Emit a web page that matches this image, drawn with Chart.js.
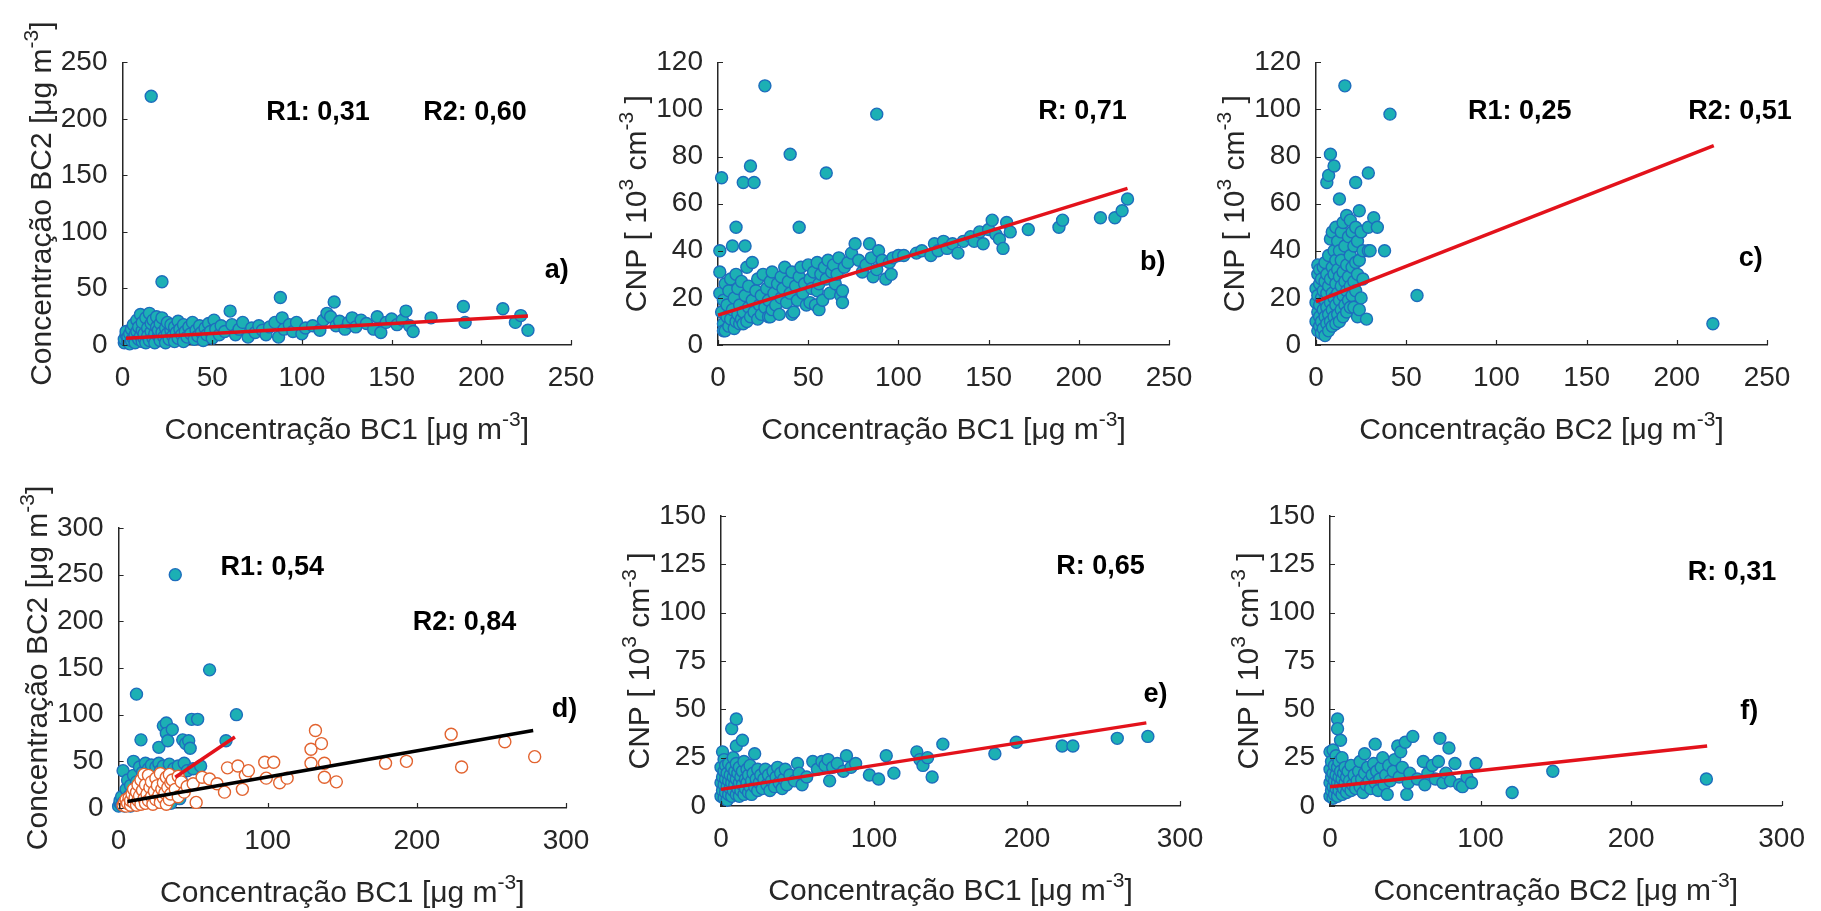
<!DOCTYPE html>
<html>
<head>
<meta charset="utf-8">
<script src="https://cdn.jsdelivr.net/npm/chart.js@4.4.1/dist/chart.umd.min.js"></script>
<style>
  html, body { margin: 0; padding: 0; background: #fff; }
  #wrap { position: relative; width: 1821px; height: 911px; overflow: hidden; }
  #wrap canvas { position: absolute; left: 0; top: 0; }
</style>
</head>
<body>
<div id="wrap">
  <canvas id="pa" width="1821" height="911"></canvas>
  <canvas id="pb" width="1821" height="911"></canvas>
  <canvas id="pc" width="1821" height="911"></canvas>
  <canvas id="pd" width="1821" height="911"></canvas>
  <canvas id="pe" width="1821" height="911"></canvas>
  <canvas id="pf" width="1821" height="911"></canvas>
</div>
<script>
// ---- tick values ----
const ticksX250 = [0, 50, 100, 150, 200, 250];
const ticksX300 = [0, 100, 200, 300];
const ticksBc2Top = [0, 50, 100, 150, 200, 250];
const ticksCnpTop = [0, 20, 40, 60, 80, 100, 120];
const ticksBc2Bottom = [0, 50, 100, 150, 200, 250, 300];
const ticksCnpBottom = [0, 25, 50, 75, 100, 125, 150];

// ---- a) BC1 vs BC2 ----
const bc1VsBc2 = [
  [1,2],[1,5],[2,9],[2,12],[3,3],[3,7],[4,1],[4,10],[5,4],[5,14],[6,6],[6,18],[7,2],[7,9],[8,12],[8,22],
  [9,5],[9,16],[10,27],[10,8],[11,3],[11,13],[11,20],[12,6],[12,10],[13,24],[13,2],[14,15],[14,8],[15,28],
  [15,4],[16,12],[16,19],[17,6],[17,22],[18,10],[18,2],[19,16],[19,25],[20,8],[20,13],[21,4],[21,19],[22,11],
  [22,24],[23,7],[24,15],[24,2],[25,20],[25,10],[26,5],[27,13],[27,18],[28,8],[29,3],[29,16],[30,11],[31,21],
  [31,6],[32,14],[33,9],[34,18],[34,3],[35,12],[36,7],[37,16],[38,10],[39,20],[40,5],[41,13],[42,8],[43,17],
  [44,11],[45,4],[46,15],[47,9],[48,19],[49,12],[50,6],[51,22],[52,14],[54,9],[55,17],[57,12],
  [60,30],[61,18],[63,9],[65,14],[67,20],[70,7],[72,15],[74,11],[76,17],[78,13],[80,9],[82,16],[85,20],[87,7],
  [88,42],[89,24],[90,14],[93,18],[95,12],[97,20],[100,10],[102,15],[106,17],[110,13],[112,22],[114,28],
  [116,25],[118,38],[119,17],[121,21],[124,14],[126,20],[128,24],[130,16],[133,22],[136,19],[140,14],[142,25],
  [144,11],[147,20],[150,23],[153,18],[156,22],[158,30],[160,17],[162,12],[172,24],[190,34],[191,20],[212,32],
  [219,20],[222,26],[226,13],[16,220],[22,56]
];
const fitBc1Bc2 = [[2, 6], [226, 25.6]];

// ---- b) BC1 vs CNP ----
const bc1VsCnp = [
  [1,40],[1,31],[1,22],[2,71],[2,14],[3,9],[3,19],[3,6],[4,6],[4,26],[5,12],[5,17],[6,8],[6,23],[7,11],[7,28],
  [8,42],[8,15],[9,7],[9,20],[10,50],[10,10],[10,30],[11,13],[11,24],[12,9],[12,17],[13,27],[13,11],[14,69],
  [14,14],[14,9],[15,42],[15,21],[16,10],[16,33],[17,16],[17,25],[18,76],[18,12],[19,19],[19,35],[20,69],
  [20,14],[21,23],[22,11],[22,28],[23,17],[24,21],[24,13],[25,30],[26,110],[26,16],[27,24],[28,12],[28,19],
  [29,27],[29,12],[30,15],[30,31],[31,22],[32,17],[33,26],[34,13],[35,20],[35,29],[36,24],[37,33],[38,18],
  [39,27],[40,81],[40,22],[41,31],[41,13],[42,14],[43,25],[44,19],[45,50],[45,29],[46,33],[47,22],[48,26],
  [49,17],[50,34],[51,28],[51,18],[52,24],[53,31],[54,17],[55,35],[55,23],[56,26],[56,15],[57,30],[58,19],
  [59,33],[60,73],[60,28],[61,36],[62,22],[63,31],[64,34],[65,26],[66,30],[67,37],[68,21],[69,18],[69,23],
  [70,33],[72,35],[74,39],[76,43],[78,36],[80,31],[82,34],[84,43],[85,37],[86,29],[88,98],[88,32],[89,40],
  [91,36],[93,28],[95,35],[96,30],[97,37],[100,38],[103,38],[110,39],[113,40],[118,38],[120,43],[122,40],
  [125,44],[127,41],[130,43],[133,39],[136,44],[140,46],[142,44],[145,48],[147,43],[150,49],[152,53],[154,47],
  [156,45],[158,41],[160,52],[162,48],[172,49],[189,50],[191,53],[212,54],[220,54],[224,57],[227,62]
];
const fitBc1Cnp = [[0, 12.7], [227, 66.5]];

// ---- c) BC2 vs CNP ----
const bc2VsCnp = [
  [0,10],[0,18],[0,24],[1,6],[1,14],[1,21],[1,30],[1,34],[2,8],[2,12],[2,17],[2,26],[2,32],[3,5],[3,10],[3,20],
  [3,28],[4,7],[4,15],[4,23],[4,33],[5,4],[5,12],[5,19],[5,27],[5,35],[6,9],[6,16],[6,22],[6,30],[6,69],[7,6],
  [7,13],[7,25],[7,38],[7,72],[8,10],[8,18],[8,28],[8,45],[8,81],[9,8],[9,15],[9,22],[9,33],[9,48],[10,12],
  [10,20],[10,30],[10,40],[10,76],[11,9],[11,17],[11,26],[11,36],[11,50],[12,13],[12,22],[12,32],[12,44],
  [13,10],[13,19],[13,29],[13,40],[13,62],[14,15],[14,25],[14,36],[14,48],[15,12],[15,21],[15,31],[15,52],
  [16,110],[16,17],[16,27],[16,42],[17,14],[17,23],[17,34],[17,55],[18,19],[18,29],[18,46],[19,16],[19,25],
  [19,38],[19,53],[20,21],[20,33],[20,48],[21,16],[21,27],[21,42],[22,69],[22,23],[22,35],[22,50],[23,12],
  [23,30],[23,44],[24,15],[24,57],[24,36],[25,20],[25,48],[26,28],[26,40],[28,11],[29,73],[29,40],[29,50],
  [30,40],[32,54],[34,50],[38,40],[41,98],[56,21],[220,9]
];
const fitBc2Cnp = [[0, 18.4], [220.5, 84.6]];

// ---- d) BC1 vs BC2, two periods ----
const bc1VsBc2Period1 = [
  [0,2],[1,5],[1,8],[2,3],[2,12],[3,6],[3,40],[4,2],[5,9],[5,20],[6,4],[6,30],[7,13],[7,7],[8,2],[8,24],[9,16],
  [10,50],[10,35],[11,10],[12,122],[12,28],[13,19],[14,44],[15,6],[15,73],[16,38],[17,25],[18,48],[19,33],
  [20,12],[20,42],[21,30],[22,46],[23,20],[24,37],[25,8],[25,44],[26,29],[27,65],[27,48],[28,40],[29,18],
  [30,88],[30,45],[31,33],[32,91],[32,80],[33,72],[34,47],[35,26],[35,5],[36,84],[37,42],[38,250],[38,20],
  [39,35],[40,45],[41,10],[42,30],[43,73],[44,48],[45,69],[46,40],[47,72],[48,64],[49,95],[50,42],[53,95],
  [55,45],[61,148],[72,72],[79,100]
];
const bc1VsBc2Period2 = [
  [3,3],[4,6],[5,2],[5,9],[6,5],[7,11],[8,3],[8,8],[9,15],[10,6],[10,20],[11,11],[12,3],[12,17],[13,8],[13,25],
  [14,13],[15,4],[15,30],[16,19],[17,10],[17,36],[18,25],[18,5],[19,15],[20,35],[20,8],[21,22],[22,12],
  [22,28],[23,4],[24,18],[25,32],[25,9],[26,24],[27,14],[28,37],[28,6],[29,20],[30,27],[30,11],[31,16],
  [32,33],[32,4],[33,22],[34,9],[34,36],[35,15],[35,27],[36,30],[38,20],[40,34],[40,12],[42,28],[44,17],
  [46,23],[50,26],[52,6],[56,33],[61,31],[66,26],[71,17],[73,43],[80,45],[83,20],[85,35],[87,40],[98,49],
  [99,32],[104,49],[108,27],[113,32],[129,48],[129,63],[132,83],[136,69],[138,48],[138,33],[146,28],[179,48],
  [193,50],[223,79],[230,44],[259,71],[279,55]
];
const fitPeriod1 = [[38, 33], [78, 76]];
const fitPeriod2 = [[6, 7], [278, 83]];

// ---- e) BC1 vs CNP ----
const bc1VsCnp2 = [
  [0,5],[0,12],[0,20],[1,8],[1,15],[1,28],[2,4],[2,11],[2,18],[2,24],[3,7],[3,14],[3,21],[4,3],[4,10],[4,17],
  [5,6],[5,13],[5,22],[6,9],[6,16],[7,40],[7,5],[7,12],[7,20],[8,8],[8,15],[8,25],[9,11],[9,18],[10,45],
  [10,31],[10,6],[10,14],[10,22],[11,9],[11,17],[12,5],[12,12],[12,20],[13,8],[13,15],[14,34],[14,11],
  [14,18],[15,6],[15,23],[16,9],[16,14],[17,12],[17,19],[18,7],[18,16],[19,10],[19,21],[20,13],[20,6],
  [21,17],[22,10],[22,27],[23,14],[24,8],[24,19],[25,12],[26,16],[27,9],[28,14],[29,19],[30,11],[31,16],
  [32,8],[33,13],[34,18],[35,10],[36,15],[37,20],[38,12],[39,17],[40,9],[41,14],[42,19],[43,11],[45,16],
  [48,13],[50,22],[51,17],[53,11],[56,15],[60,23],[63,19],[66,23],[68,21],[70,24],[71,13],[73,20],[76,22],
  [80,18],[82,26],[85,20],[88,22],[97,16],[103,14],[108,26],[113,17],[128,28],[130,24],[132,21],[135,25],
  [138,15],[145,32],[179,27],[193,33],[223,31],[230,31],[259,35],[279,36]
];
const fitBc1Cnp2 = [[0, 8.6], [278, 43]];

// ---- f) BC2 vs CNP ----
const bc2VsCnp2 = [
  [0,5],[0,12],[0,19],[0,28],[1,8],[1,15],[1,23],[2,4],[2,10],[2,17],[2,29],[3,6],[3,13],[3,21],[4,9],[4,16],
  [4,26],[5,45],[5,40],[5,5],[5,12],[5,20],[6,8],[6,15],[6,23],[7,34],[7,11],[7,18],[8,6],[8,14],[8,25],
  [9,9],[9,17],[10,12],[10,20],[11,7],[11,15],[12,10],[12,18],[13,13],[14,8],[14,21],[15,11],[16,16],[17,9],
  [18,13],[19,18],[20,23],[20,10],[21,14],[22,7],[23,27],[23,17],[24,11],[25,20],[26,13],[27,9],[28,16],
  [29,22],[30,32],[30,12],[31,18],[32,8],[33,14],[34,20],[35,25],[36,11],[37,16],[38,6],[39,21],[40,13],
  [42,18],[43,24],[45,31],[46,15],[47,28],[48,20],[50,33],[51,6],[52,12],[53,17],[55,36],[58,14],[62,23],
  [63,11],[65,17],[68,21],[70,14],[72,23],[73,35],[75,12],[77,17],[79,30],[80,13],[83,22],[86,11],[88,10],
  [91,15],[94,12],[97,22],[121,7],[148,18],[250,14]
];
const fitBc2Cnp2 = [[0, 10], [250.5, 31]];

// ---- texts ----
const titleBC1 = [['Concentração BC1 [μg m', 0], ['-3', 1], [']', 0]];
const titleBC2 = [['Concentração BC2 [μg m', 0], ['-3', 1], [']', 0]];
const titleCNP = [['CNP [ 10', 0], ['3', 1], [' cm', 0], ['-3', 1], [' ]', 0]];
const notesA = ['R1: 0,31', 'R2: 0,60', 'a)'];
const notesB = ['R: 0,71', 'b)'];
const notesC = ['R1: 0,25', 'R2: 0,51', 'c)'];
const notesD = ['R1: 0,54', 'R2: 0,84', 'd)'];
const notesE = ['R: 0,65', 'e)'];
const notesF = ['R: 0,31', 'f)'];

const FONT = '"Liberation Sans", Arial, Helvetica, sans-serif';
const TXT = '#262626';
const TEAL = '#1cb0b4', TEAL_EDGE = '#1d6ebd', ORANGE = '#e2632f', RED = '#e3121b';

const panels = [
  { canvas: 'pa', area: [122.5, 62.3, 571, 345], xTicks: ticksX250, yTicks: ticksBc2Top,
    series: [{ pts: bc1VsBc2, fill: TEAL, edge: TEAL_EDGE }], fits: [{ pts: fitBc1Bc2, color: RED }],
    xTitle: titleBC1, yTitle: titleBC2, notes: notesA, notesAt: [[109, 206], [196.5, 206], [242, 66]] },
  { canvas: 'pb', area: [718, 62.3, 1169, 345], xTicks: ticksX250, yTicks: ticksCnpTop,
    series: [{ pts: bc1VsCnp, fill: TEAL, edge: TEAL_EDGE }], fits: [{ pts: fitBc1Cnp, color: RED }],
    xTitle: titleBC1, yTitle: titleCNP, notes: notesB, notesAt: [[202, 98.9], [241, 34.8]] },
  { canvas: 'pc', area: [1316, 62.3, 1767, 345], xTicks: ticksX250, yTicks: ticksCnpTop,
    series: [{ pts: bc2VsCnp, fill: TEAL, edge: TEAL_EDGE }], fits: [{ pts: fitBc2Cnp, color: RED }],
    xTitle: titleBC2, yTitle: titleCNP, notes: notesC, notesAt: [[113, 98.9], [235, 98.9], [241, 36.9]] },
  { canvas: 'pd', area: [118.6, 528, 566, 808], xTicks: ticksX300, yTicks: ticksBc2Bottom,
    series: [{ pts: bc1VsBc2Period1, fill: TEAL, edge: TEAL_EDGE }, { pts: bc1VsBc2Period2, fill: '#ffffff', edge: ORANGE }],
    fits: [{ pts: fitPeriod1, color: RED }, { pts: fitPeriod2, color: '#000000' }],
    xTitle: titleBC1, yTitle: titleBC2, notes: notesD, notesAt: [[103, 258], [232, 199], [299, 105]] },
  { canvas: 'pe', area: [721, 516, 1180, 806], xTicks: ticksX300, yTicks: ticksCnpBottom,
    series: [{ pts: bc1VsCnp2, fill: TEAL, edge: TEAL_EDGE }], fits: [{ pts: fitBc1Cnp2, color: RED }],
    xTitle: titleBC1, yTitle: titleCNP, notes: notesE, notesAt: [[248, 123.6], [284, 57.4]] },
  { canvas: 'pf', area: [1330, 516, 1790, 806], xTicks: ticksX300, yTicks: ticksCnpBottom,
    series: [{ pts: bc2VsCnp2, fill: TEAL, edge: TEAL_EDGE }], fits: [{ pts: fitBc2Cnp2, color: RED }],
    xTitle: titleBC2, yTitle: titleCNP, notes: notesF, notesAt: [[267, 120.5], [278.5, 48.6]] }
];

// text with superscript pieces, centred on x, baseline at y
function drawRich(ctx, parts, size, x, y) {
  const supSize = Math.round(size * 0.7);
  const widths = parts.map(([t, sup]) => {
    ctx.font = (sup ? supSize : size) + 'px ' + FONT;
    return ctx.measureText(t).width;
  });
  let cx = x - widths.reduce((a, b) => a + b, 0) / 2;
  parts.forEach(([t, sup], i) => {
    ctx.font = (sup ? supSize : size) + 'px ' + FONT;
    ctx.fillText(t, cx, sup ? y - size * 0.42 : y);
    cx += widths[i];
  });
}

function decorPlugin(p) {
  return {
    id: 'decor',
    afterDraw(chart) {
      const { ctx, chartArea: ca } = chart;
      const xs = chart.scales.x, ys = chart.scales.y;
      ctx.save();
      // inward tick marks
      ctx.strokeStyle = TXT;
      ctx.lineWidth = 1.2;
      ctx.beginPath();
      p.xTicks.forEach(v => {
        const px = Math.round(xs.getPixelForValue(v)) + 0.5;
        ctx.moveTo(px, ca.bottom); ctx.lineTo(px, ca.bottom - 5);
      });
      p.yTicks.forEach(v => {
        const py = Math.round(ys.getPixelForValue(v)) + 0.5;
        ctx.moveTo(ca.left, py); ctx.lineTo(ca.left + 5, py);
      });
      ctx.stroke();

      // axis titles
      ctx.fillStyle = TXT;
      ctx.textAlign = 'left';
      ctx.textBaseline = 'alphabetic';
      drawRich(ctx, p.xTitle, 30, (ca.left + ca.right) / 2, ca.bottom + 94);
      ctx.save();
      ctx.translate(ca.left - 72, (ca.top + ca.bottom) / 2);
      ctx.rotate(-Math.PI / 2);
      drawRich(ctx, p.yTitle, 30, 0, 0);
      ctx.restore();

      // correlation notes and panel letter
      ctx.fillStyle = '#000';
      ctx.font = 'bold 27px ' + FONT;
      ctx.textAlign = 'center';
      ctx.textBaseline = 'middle';
      p.notes.forEach((t, i) => {
        const [nx, ny] = p.notesAt[i];
        ctx.fillText(t, xs.getPixelForValue(nx), ys.getPixelForValue(ny));
      });
      ctx.restore();
    }
  };
}

// the scale boxes take up the whole margin so their labels are not clipped
function axisOpts(ticks, horizontal, margin) {
  return {
    type: 'linear',
    position: horizontal ? 'bottom' : 'left',
    min: ticks[0],
    max: ticks[ticks.length - 1],
    afterBuildTicks: s => { s.ticks = ticks.map(v => ({ value: v })); },
    afterFit: s => { if (horizontal) s.height = margin; else s.width = margin; },
    grid: { display: false, drawTicks: false },
    border: { display: true, color: TXT, width: 1.5 },
    ticks: {
      color: TXT,
      padding: horizontal ? 16 : 15,
      maxRotation: 0,
      autoSkip: false,
      font: { family: FONT, size: 28 }
    }
  };
}

panels.forEach(p => {
  const [L, T, R, B] = p.area;
  const datasets = [];
  p.fits.forEach(f => datasets.push({
    data: f.pts.map(([x, y]) => ({ x, y })),
    showLine: true,
    borderColor: f.color,
    borderWidth: 3.5,
    pointRadius: 0,
    clip: false,
    order: 0
  }));
  p.series.forEach((s, i) => datasets.push({
    data: s.pts.map(([x, y]) => ({ x, y })),
    backgroundColor: s.fill,
    borderColor: s.edge,
    pointRadius: 6,
    pointBorderWidth: 1.4,
    clip: false,
    order: p.series.length - i
  }));

  new Chart(document.getElementById(p.canvas), {
    type: 'scatter',
    data: { datasets },
    options: {
      responsive: false,
      animation: false,
      events: [],
      layout: { padding: { left: 0, top: T, right: 1821 - R, bottom: 0 } },
      plugins: { legend: { display: false }, tooltip: { enabled: false } },
      scales: { x: axisOpts(p.xTicks, true, 911 - B), y: axisOpts(p.yTicks, false, L) }
    },
    plugins: [decorPlugin(p)]
  });
});
</script>
</body>
</html>
